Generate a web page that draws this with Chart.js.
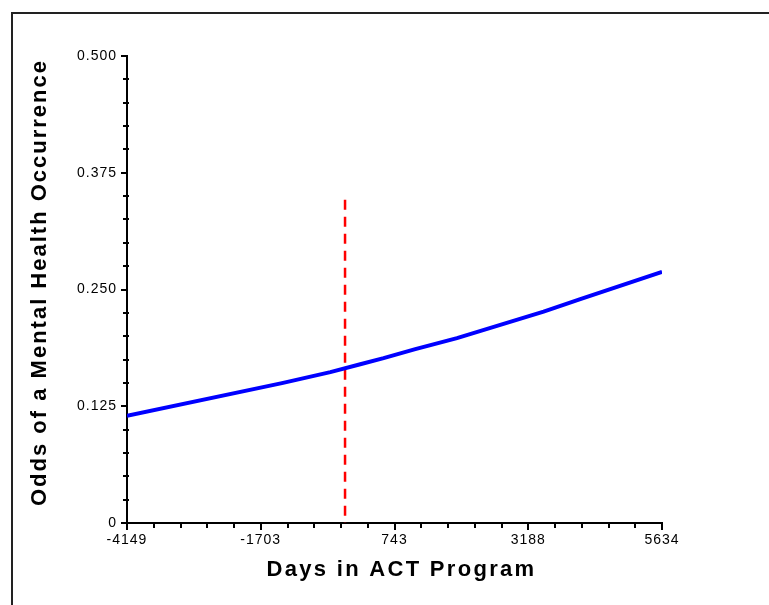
<!DOCTYPE html>
<html>
<head>
<meta charset="utf-8">
<script src="https://cdn.jsdelivr.net/npm/chart.js@4"></script>
<style>
  html, body { margin: 0; padding: 0; background: #fff; }
  #wrap { position: relative; width: 769px; height: 605px; overflow: hidden; }
  #frame { position: absolute; left: 11px; top: 12px; width: 800px; height: 640px;
           border-left: 2px solid #222; border-top: 2px solid #222; }
  #oddsChart { position: absolute; left: 0; top: 0; }
</style>
</head>
<body>
<div id="wrap">
  <div id="frame"></div>
  <canvas id="oddsChart" width="769" height="605"></canvas>
</div>
<script>
// fitted odds over time in the program
const days = [-4149, -1315, -431, 117, 543, 1123, 1885, 3469, 4140, 5634];
const odds = [0.1148, 0.1498, 0.1615, 0.1700, 0.1765, 0.1862, 0.1979, 0.2264, 0.2397, 0.2689];

// program start marker
const cutoffDay = -162;
const cutoffTop = 0.346;

const xTickValues = [-4149, -1703.25, 742.5, 3188.25, 5634];
const xTickLabels = ['-4149', '-1703', '743', '3188', '5634'];
const yTickValues = [0, 0.125, 0.25, 0.375, 0.5];
const yTickLabels = ['0', '0.125', '0.250', '0.375', '0.500'];

const FONT = 'Liberation Sans, Arial, sans-serif';

// wider spacing + small offset for the axis titles
const titleStyle = {
    x: { spacing: '2.3px', dx: 7, dy: 0 },
    y: { spacing: '2px', dx: 0, dy: -7 }
};

const minorTicks = {
    id: 'minorTicks',
    beforeDraw(chart) {
        chart.ctx.letterSpacing = '1px';
        for (const id of ['x', 'y']) {
            const scale = chart.scales[id];
            if (scale._wrappedTitle) continue;
            const orig = scale.drawTitle;
            scale.drawTitle = function () {
                const ctx = this.ctx, st = titleStyle[id];
                ctx.save();
                ctx.letterSpacing = st.spacing;
                ctx.translate(st.dx, st.dy);
                orig.call(this);
                ctx.restore();
            };
            scale._wrappedTitle = true;
        }
    },
    // small tick marks between the labelled ones
    afterDraw(chart) {
        const ctx = chart.ctx;
        const xs = chart.scales.x, ys = chart.scales.y;
        const area = chart.chartArea;
        ctx.save();
        ctx.strokeStyle = '#000';
        ctx.lineWidth = 2;
        ctx.beginPath();
        for (let i = 0; i < xTickValues.length - 1; i++) {
            const step = (xTickValues[i + 1] - xTickValues[i]) / 5;
            for (let k = 1; k < 5; k++) {
                const px = Math.round(xs.getPixelForValue(xTickValues[i] + k * step));
                ctx.moveTo(px, area.bottom);
                ctx.lineTo(px, area.bottom + 5);
            }
        }
        for (let i = 0; i < yTickValues.length - 1; i++) {
            const step = (yTickValues[i + 1] - yTickValues[i]) / 5;
            for (let k = 1; k < 5; k++) {
                const py = Math.round(ys.getPixelForValue(yTickValues[i] + k * step));
                ctx.moveTo(area.left - 4, py);
                ctx.lineTo(area.left + 2, py);
            }
        }
        ctx.stroke();
        ctx.restore();
    }
};

new Chart(document.getElementById('oddsChart'), {
    type: 'line',
    data: {
        datasets: [{
            data: days.map((d, i) => ({ x: d, y: odds[i] })),
            borderColor: '#0000ff',
            borderWidth: 4,
            pointRadius: 0,
            tension: 0
        }, {
            data: [{ x: cutoffDay, y: cutoffTop }, { x: cutoffDay, y: 0 }],
            borderColor: '#ff0000',
            borderWidth: 2.5,
            borderDash: [10, 7],
            pointRadius: 0
        }]
    },
    plugins: [minorTicks],
    options: {
        responsive: false,
        animation: false,
        devicePixelRatio: 1,
        layout: { padding: { top: 56, right: 107, left: 0, bottom: 0 } },
        plugins: {
            legend: { display: false },
            tooltip: { enabled: false }
        },
        scales: {
            x: {
                type: 'linear',
                min: -4149,
                max: 5634,
                afterFit(s) { s.height = 82; },
                afterBuildTicks(s) { s.ticks = xTickValues.map(v => ({ value: v })); },
                grid: { drawOnChartArea: false, tickLength: 7, lineWidth: 2, color: '#000' },
                border: { color: '#000', width: 2 },
                ticks: {
                    color: '#000',
                    padding: 2,
                    maxRotation: 0,
                    font: { family: FONT, size: 14 },
                    callback: (v, i) => xTickLabels[i]
                },
                title: {
                    display: true,
                    text: 'Days in ACT Program',
                    color: '#000',
                    font: { family: FONT, size: 22, weight: 'bold' },
                    padding: { top: 0, bottom: 22 }
                }
            },
            y: {
                min: 0,
                max: 0.5,
                afterFit(s) { s.width = 127; },
                afterBuildTicks(s) { s.ticks = yTickValues.map(v => ({ value: v })); },
                grid: { drawOnChartArea: false, tickLength: 6, lineWidth: 2, color: '#000' },
                border: { color: '#000', width: 2 },
                ticks: {
                    color: '#000',
                    padding: 4,
                    font: { family: FONT, size: 14 },
                    callback: (v, i) => yTickLabels[i]
                },
                title: {
                    display: true,
                    text: 'Odds of a Mental Health Occurrence',
                    color: '#000',
                    font: { family: FONT, size: 22, weight: 'bold' },
                    padding: { top: 27, bottom: 0 }
                }
            }
        }
    }
});
</script>
</body>
</html>
